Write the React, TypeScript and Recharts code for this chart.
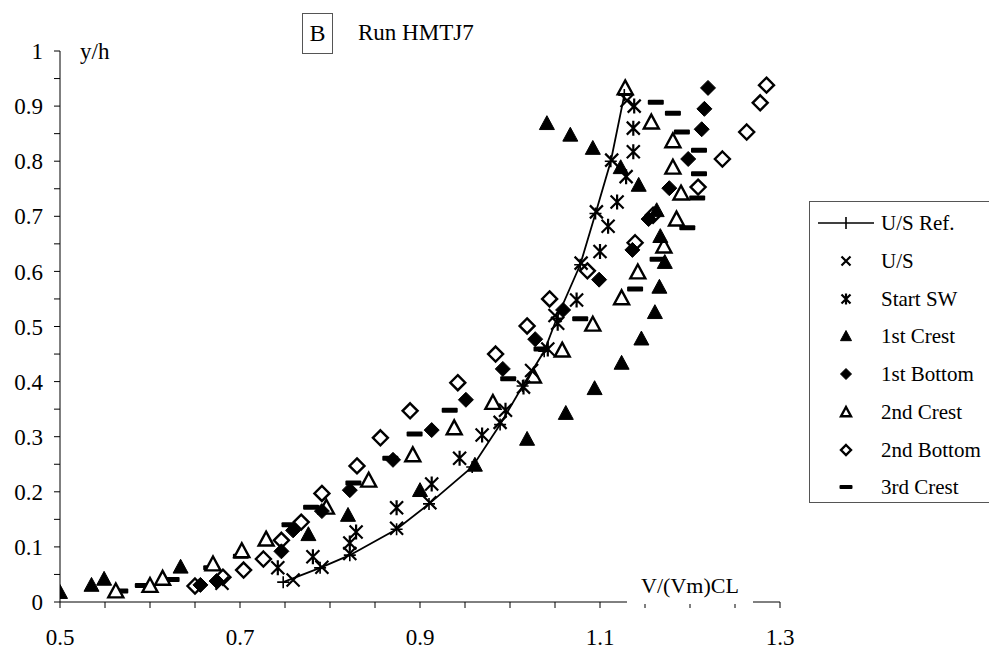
import { ScatterChart, Scatter, XAxis, YAxis } from "recharts";

// y/h against V/(Vm)CL
const usRef = [
  { x: 0.748, y: 0.036 }, { x: 0.789, y: 0.062 }, { x: 0.822, y: 0.085 },
  { x: 0.874, y: 0.132 }, { x: 0.91, y: 0.178 }, { x: 0.958, y: 0.245 },
  { x: 0.989, y: 0.322 }, { x: 1.014, y: 0.392 }, { x: 1.038, y: 0.455 },
  { x: 1.052, y: 0.515 }, { x: 1.078, y: 0.612 }, { x: 1.095, y: 0.705 },
  { x: 1.112, y: 0.8 }, { x: 1.127, y: 0.92 },
];
const us = [
  { x: 0.68, y: 0.034 }, { x: 0.759, y: 0.04 }, { x: 0.791, y: 0.063 },
  { x: 0.822, y: 0.088 }, { x: 0.874, y: 0.134 }, { x: 0.911, y: 0.18 },
  { x: 0.989, y: 0.326 }, { x: 1.024, y: 0.42 }, { x: 1.05, y: 0.52 },
  { x: 1.079, y: 0.615 }, { x: 1.096, y: 0.708 }, { x: 1.113, y: 0.802 },
  { x: 1.13, y: 0.91 },
];
const startSW = [
  { x: 0.742, y: 0.062 }, { x: 0.781, y: 0.082 }, { x: 0.822, y: 0.107 },
  { x: 0.829, y: 0.127 }, { x: 0.874, y: 0.171 }, { x: 0.913, y: 0.214 },
  { x: 0.944, y: 0.261 }, { x: 0.969, y: 0.303 }, { x: 0.995, y: 0.348 },
  { x: 1.015, y: 0.39 }, { x: 1.042, y: 0.459 }, { x: 1.053, y: 0.506 },
  { x: 1.074, y: 0.548 }, { x: 1.1, y: 0.636 }, { x: 1.109, y: 0.682 },
  { x: 1.119, y: 0.726 }, { x: 1.129, y: 0.772 }, { x: 1.137, y: 0.817 },
  { x: 1.137, y: 0.86 }, { x: 1.138, y: 0.9 },
];
const firstCrest = [
  { x: 0.5, y: 0.018 }, { x: 0.535, y: 0.031 }, { x: 0.549, y: 0.042 },
  { x: 0.634, y: 0.064 }, { x: 0.776, y: 0.123 }, { x: 0.82, y: 0.158 },
  { x: 0.9, y: 0.203 }, { x: 0.961, y: 0.249 }, { x: 1.019, y: 0.296 },
  { x: 1.062, y: 0.343 }, { x: 1.094, y: 0.388 }, { x: 1.124, y: 0.434 },
  { x: 1.146, y: 0.478 }, { x: 1.161, y: 0.526 }, { x: 1.166, y: 0.572 },
  { x: 1.172, y: 0.617 }, { x: 1.167, y: 0.664 }, { x: 1.163, y: 0.711 },
  { x: 1.143, y: 0.757 }, { x: 1.123, y: 0.789 }, { x: 1.092, y: 0.824 },
  { x: 1.067, y: 0.848 }, { x: 1.041, y: 0.869 },
];
const firstBottom = [
  { x: 0.656, y: 0.031 }, { x: 0.674, y: 0.038 }, { x: 0.746, y: 0.092 },
  { x: 0.759, y: 0.13 }, { x: 0.791, y: 0.165 }, { x: 0.822, y: 0.203 },
  { x: 0.87, y: 0.258 }, { x: 0.913, y: 0.312 }, { x: 0.951, y: 0.367 },
  { x: 0.992, y: 0.423 }, { x: 1.028, y: 0.477 }, { x: 1.059, y: 0.53 },
  { x: 1.099, y: 0.585 }, { x: 1.136, y: 0.639 }, { x: 1.154, y: 0.695 },
  { x: 1.177, y: 0.751 }, { x: 1.198, y: 0.804 }, { x: 1.213, y: 0.858 },
  { x: 1.216, y: 0.895 }, { x: 1.22, y: 0.933 },
];
const secondCrest = [
  { x: 0.562, y: 0.02 }, { x: 0.6, y: 0.03 }, { x: 0.614, y: 0.043 },
  { x: 0.67, y: 0.069 }, { x: 0.702, y: 0.093 }, { x: 0.729, y: 0.114 },
  { x: 0.796, y: 0.172 }, { x: 0.843, y: 0.221 }, { x: 0.892, y: 0.267 },
  { x: 0.938, y: 0.316 }, { x: 0.981, y: 0.362 }, { x: 1.026, y: 0.41 },
  { x: 1.058, y: 0.457 }, { x: 1.092, y: 0.504 }, { x: 1.124, y: 0.552 },
  { x: 1.142, y: 0.599 }, { x: 1.171, y: 0.646 }, { x: 1.185, y: 0.695 },
  { x: 1.19, y: 0.742 }, { x: 1.181, y: 0.789 }, { x: 1.181, y: 0.837 },
  { x: 1.157, y: 0.871 }, { x: 1.128, y: 0.933 },
];
const secondBottom = [
  { x: 0.65, y: 0.029 }, { x: 0.681, y: 0.045 }, { x: 0.704, y: 0.058 },
  { x: 0.726, y: 0.078 }, { x: 0.746, y: 0.112 }, { x: 0.768, y: 0.145 },
  { x: 0.791, y: 0.197 }, { x: 0.83, y: 0.247 }, { x: 0.856, y: 0.298 },
  { x: 0.889, y: 0.347 }, { x: 0.942, y: 0.398 }, { x: 0.984, y: 0.45 },
  { x: 1.019, y: 0.501 }, { x: 1.044, y: 0.55 }, { x: 1.086, y: 0.601 },
  { x: 1.139, y: 0.652 }, { x: 1.159, y: 0.702 }, { x: 1.209, y: 0.753 },
  { x: 1.236, y: 0.804 }, { x: 1.263, y: 0.853 }, { x: 1.278, y: 0.906 },
  { x: 1.285, y: 0.938 },
];
const thirdCrest = [
  { x: 0.567, y: 0.02 }, { x: 0.592, y: 0.03 }, { x: 0.624, y: 0.041 },
  { x: 0.668, y: 0.062 }, { x: 0.701, y: 0.083 }, { x: 0.755, y: 0.14 },
  { x: 0.779, y: 0.172 }, { x: 0.826, y: 0.216 }, { x: 0.867, y: 0.261 },
  { x: 0.894, y: 0.305 }, { x: 0.933, y: 0.348 }, { x: 0.998, y: 0.405 },
  { x: 1.035, y: 0.459 }, { x: 1.078, y: 0.514 }, { x: 1.139, y: 0.568 },
  { x: 1.164, y: 0.622 }, { x: 1.197, y: 0.679 }, { x: 1.208, y: 0.733 },
  { x: 1.21, y: 0.777 }, { x: 1.21, y: 0.82 }, { x: 1.191, y: 0.853 },
  { x: 1.181, y: 0.887 }, { x: 1.162, y: 0.907 },
];

const xTicks = [
  0.5, 0.55, 0.6, 0.65, 0.7, 0.75, 0.8, 0.85, 0.9, 0.95, 1.0, 1.05, 1.1,
  1.15, 1.2, 1.25, 1.3,
];
const xLabels = ["0.5", "0.7", "0.9", "1.1", "1.3"];
const yTicks = [
  0, 0.05, 0.1, 0.15, 0.2, 0.25, 0.3, 0.35, 0.4, 0.45, 0.5, 0.55, 0.6, 0.65,
  0.7, 0.75, 0.8, 0.85, 0.9, 0.95, 1,
];
const yLabels = ["0", "0.1", "0.2", "0.3", "0.4", "0.5", "0.6", "0.7", "0.8", "0.9", "1"];

const legendNames = [
  "U/S Ref.", "U/S", "Start SW", "1st Crest", "1st Bottom", "2nd Crest",
  "2nd Bottom", "3rd Crest",
];

const FONT = "Liberation Serif, Times New Roman, DejaVu Serif, serif";

type P = { cx?: number; cy?: number };

// marker shapes
function plusShape({ cx = 0, cy = 0 }: P, s = 6) {
  return (
    <path d={`M${cx - s},${cy}h${2 * s}M${cx},${cy - s}v${2 * s}`} stroke="#000" strokeWidth={1.6} fill="none" />
  );
}
function crossShape({ cx = 0, cy = 0 }: P, s = 6.5) {
  return (
    <path
      d={`M${cx - s},${cy - s}L${cx + s},${cy + s}M${cx - s},${cy + s}L${cx + s},${cy - s}`}
      stroke="#000" strokeWidth={2.2} fill="none"
    />
  );
}
function starShape({ cx = 0, cy = 0 }: P, s = 6.5) {
  return (
    <path
      d={`M${cx - s},${cy - s}L${cx + s},${cy + s}M${cx - s},${cy + s}L${cx + s},${cy - s}M${cx},${cy - s - 1}v${2 * s + 2}`}
      stroke="#000" strokeWidth={2.2} fill="none"
    />
  );
}
function triShape({ cx = 0, cy = 0 }: P, filled: boolean, s = 7.5) {
  return (
    <path
      d={`M${cx},${cy - s}L${cx + s},${cy + s * 0.85}L${cx - s},${cy + s * 0.85}Z`}
      stroke="#000" strokeWidth={filled ? 1 : 2.4} fill={filled ? "#000" : "#fff"} strokeLinejoin="miter"
    />
  );
}
function diamondShape({ cx = 0, cy = 0 }: P, filled: boolean, s = 7.5) {
  return (
    <path
      d={`M${cx},${cy - s}L${cx + s},${cy}L${cx},${cy + s}L${cx - s},${cy}Z`}
      stroke="#000" strokeWidth={filled ? 1 : 2.4} fill={filled ? "#000" : "#fff"}
    />
  );
}
function dashShape({ cx = 0, cy = 0 }: P, w = 16, h = 5) {
  return <rect x={cx - w / 2} y={cy - h / 2} width={w} height={h} rx={1} fill="#000" />;
}

function Legend() {
  const rowY = [21, 59, 97, 134, 172, 210, 248, 285];
  const mx = 36;
  const icons = [
    <g key="0">
      <line x1={8} x2={64} y1={rowY[0]} y2={rowY[0]} stroke="#000" strokeWidth={1.6} />
      <line x1={mx} x2={mx} y1={rowY[0] - 6} y2={rowY[0] + 6} stroke="#000" strokeWidth={1.6} />
    </g>,
    <g key="1">{crossShape({ cx: mx, cy: rowY[1] }, 4.5)}</g>,
    <g key="2">{starShape({ cx: mx, cy: rowY[2] }, 4.5)}</g>,
    <g key="3">{triShape({ cx: mx, cy: rowY[3] }, true, 5.5)}</g>,
    <g key="4">{diamondShape({ cx: mx, cy: rowY[4] }, true, 5.5)}</g>,
    <g key="5">{triShape({ cx: mx, cy: rowY[5] }, false, 5)}</g>,
    <g key="6">{diamondShape({ cx: mx, cy: rowY[6] }, false, 5)}</g>,
    <g key="7">{dashShape({ cx: mx, cy: rowY[7] }, 13, 4)}</g>,
  ];
  return (
    <div
      style={{
        position: "absolute", left: 809, top: 201, width: 220, height: 300,
        border: "1px solid #555", background: "#fff",
      }}
    >
      <svg width={220} height={300} style={{ position: "absolute", left: 0, top: 0 }}>
        {icons}
        {legendNames.map((n, i) => (
          <text key={n} x={71} y={rowY[i] + 7} fontSize={21} fontFamily={FONT} fill="#000">
            {n}
          </text>
        ))}
      </svg>
    </div>
  );
}

export default function App() {
  const tickStyle = { fill: "#000", fontSize: 23, fontFamily: FONT };
  const fmtX = (v: number) => {
    const s = v.toFixed(1);
    return Math.abs(v * 10 - Math.round(v * 10)) < 0.01 && xLabels.includes(s) ? s : "";
  };
  const fmtY = (v: number) => {
    const s = v === 0 ? "0" : v === 1 ? "1" : v.toFixed(1);
    return Math.abs(v * 10 - Math.round(v * 10)) < 0.01 && yLabels.includes(s) ? s : "";
  };

  return (
    <div
      style={{
        position: "fixed", left: 0, top: 0, width: 989, height: 652,
        overflow: "hidden", background: "#fff", fontFamily: FONT,
      }}
    >
      <ScatterChart width={989} height={652} margin={{ top: 51, right: 209, bottom: 0, left: 0 }}>
        <XAxis
          type="number" dataKey="x" domain={[0.5, 1.3]} ticks={xTicks}
          tickFormatter={fmtX} interval={0} height={50} tickSize={6} tickMargin={21}
          stroke="#000" tick={tickStyle} allowDataOverflow
        />
        <YAxis
          type="number" dataKey="y" domain={[0, 1]} ticks={yTicks}
          tickFormatter={fmtY} interval={0} width={60} tickSize={6} tickMargin={11}
          stroke="#000" tick={tickStyle} allowDataOverflow
        />
        <Scatter data={thirdCrest} isAnimationActive={false} shape={(p: P) => dashShape(p)} />
        <Scatter data={secondBottom} isAnimationActive={false} shape={(p: P) => diamondShape(p, false)} />
        <Scatter data={secondCrest} isAnimationActive={false} shape={(p: P) => triShape(p, false)} />
        <Scatter data={firstBottom} isAnimationActive={false} shape={(p: P) => diamondShape(p, true)} />
        <Scatter data={firstCrest} isAnimationActive={false} shape={(p: P) => triShape(p, true)} />
        <Scatter data={startSW} isAnimationActive={false} shape={(p: P) => starShape(p)} />
        <Scatter data={us} isAnimationActive={false} shape={(p: P) => crossShape(p)} />
        <Scatter
          data={usRef} isAnimationActive={false} line={{ stroke: "#000", strokeWidth: 1.8 }}
          lineType="joint" shape={(p: P) => plusShape(p)}
        />
      </ScatterChart>

      {/* axis label sits on the x axis with a white backing */}
      <div
        style={{
          position: "absolute", left: 627, top: 572, width: 126, height: 32,
          background: "#fff", fontSize: 22, lineHeight: "28px", textAlign: "center",
        }}
      >
        V/(Vm)CL
      </div>
      <div style={{ position: "absolute", left: 80, top: 38, fontSize: 23, lineHeight: "28px" }}>y/h</div>
      <div
        style={{
          position: "absolute", left: 302, top: 13, width: 29, height: 39,
          border: "1px solid #555", fontSize: 24, lineHeight: "39px", textAlign: "center",
        }}
      >
        B
      </div>
      <div style={{ position: "absolute", left: 358, top: 18, fontSize: 23, lineHeight: "30px" }}>
        Run HMTJ7
      </div>
      <Legend />
    </div>
  );
}
